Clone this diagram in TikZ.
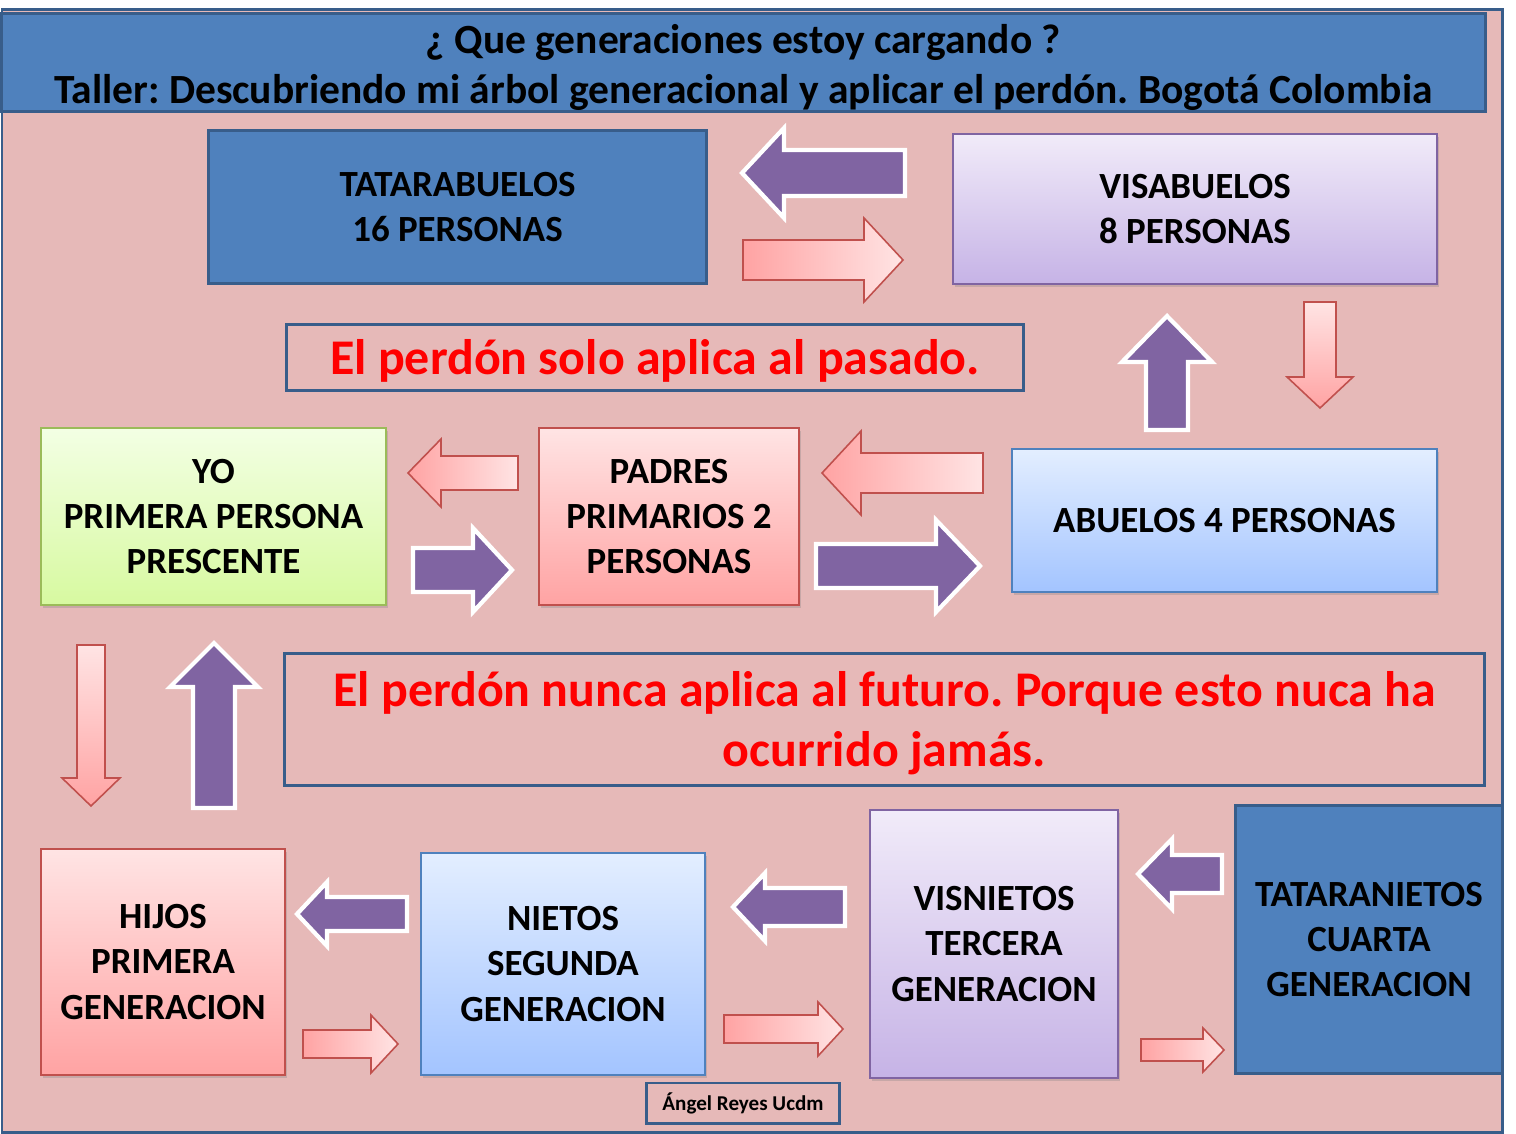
\documentclass[tikz,border=0pt]{standalone}
\usepackage{fontspec}
\setmainfont{Carlito}
\usetikzlibrary{positioning,shadows}

\definecolor{fondo}{HTML}{E6B9B8}
\definecolor{azulosc}{HTML}{385D8A}
\definecolor{azul}{HTML}{4F81BD}
\definecolor{morado}{HTML}{8064A2}
\definecolor{rojo}{HTML}{C0504D}
\definecolor{verde}{HTML}{9BBB59}
\definecolor{rojoclaro}{HTML}{FFE4E4}
\definecolor{rojomedio}{HTML}{FFA3A3}
\definecolor{azulclaro}{HTML}{E3EEFF}
\definecolor{azulmedio}{HTML}{A3C4FF}
\definecolor{moradoclaro}{HTML}{F1EBF9}
\definecolor{moradomedio}{HTML}{C6B3E6}
\definecolor{verdeclaro}{HTML}{F3FFE4}
\definecolor{verdemedio}{HTML}{D7F9A0}

\tikzset{
  caja/.style={draw, inner sep=0pt, align=center, font=\bfseries\fontsize{10.5}{12.8}\selectfont},
  sombra/.style={drop shadow={shadow xshift=0.5pt, shadow yshift=-0.8pt, opacity=0.3}},
  cajaazul/.style={caja, fill=azul, draw=azulosc, line width=0.85pt},
  cajaroja/.style={caja, sombra, draw=rojo, line width=0.6pt, top color=rojoclaro, bottom color=rojomedio},
  cajalila/.style={caja, sombra, draw=morado, line width=0.6pt, top color=moradoclaro, bottom color=moradomedio},
  cajaceleste/.style={caja, sombra, draw=azul, line width=0.6pt, top color=azulclaro, bottom color=azulmedio},
  cajaverde/.style={caja, sombra, draw=verde, line width=0.6pt, top color=verdeclaro, bottom color=verdemedio},
  marco/.style={draw=azulosc, line width=0.85pt, inner sep=0pt},
  titulotexto/.style={inner sep=0pt, align=center, font=\bfseries\fontsize{11.8}{14.2}\selectfont, yshift=-1.4pt},
  avisotexto/.style={inner sep=0pt, align=center, text=red, font=\bfseries\fontsize{14.2}{17}\selectfont, yshift=-1.1pt},
  flechamorada/.style={fill=morado, draw=white, line width=1.2pt, line join=miter},
  flecharojah/.style={draw=rojo, line width=0.45pt, left color=rojomedio, right color=rojoclaro},
  flecharojav/.style={draw=rojo, line width=0.45pt, top color=rojoclaro, bottom color=rojomedio},
}

% flecha de bloque: estilo, cola, base de la punta, punta, eje, medio cuerpo, media punta
\newcommand{\flechah}[7]{\draw[#1] (#2,#5-#6) -- (#3,#5-#6) -- (#3,#5-#7) -- (#4,#5) -- (#3,#5+#7) -- (#3,#5+#6) -- (#2,#5+#6) -- cycle;}
\newcommand{\flechav}[7]{\draw[#1] (#5-#6,#2) -- (#5-#6,#3) -- (#5-#7,#3) -- (#5,#4) -- (#5+#7,#3) -- (#5+#6,#3) -- (#5+#6,#2) -- cycle;}

\begin{document}
\frenchspacing
\begin{tikzpicture}[x=0.01cm, y=-0.01cm]
  \useasboundingbox[fill=white] (0,0) rectangle (1516,1134);
  \draw[fill=fondo, draw=azulosc, line width=0.85pt] (2,10) rectangle (1502,1132);

  % titulo
  \node[cajaazul, minimum width=14.83cm, minimum height=0.97cm,
    label={[titulotexto]center:¿ Que generaciones estoy cargando ?\\Taller: Descubriendo mi árbol generacional y aplicar el perdón. Bogotá Colombia}]
    (titulo) at (743.5,62.5) {};

  % generaciones pasadas
  \node[cajaazul, minimum width=4.97cm, minimum height=1.52cm] (tatarabuelos) at (457.5,207) {TATARABUELOS\\16 PERSONAS};
  \node[cajalila, minimum width=4.84cm, minimum height=1.50cm] (visabuelos) at (1195,209) {VISABUELOS\\8 PERSONAS};
  \node[marco, minimum width=7.36cm, minimum height=0.65cm,
    label={[avisotexto]center:El perdón solo aplica al pasado.}] (pasado) at (655,357.5) {};
  \node[cajaverde, minimum width=3.45cm, minimum height=1.77cm] (yo) at (213.5,516.5) {YO\\PRIMERA PERSONA\\PRESCENTE};
  \node[cajaroja, minimum width=2.60cm, minimum height=1.77cm] (padres) at (669,516.5) {PADRES\\PRIMARIOS 2\\PERSONAS};
  \node[cajaceleste, minimum width=4.25cm, minimum height=1.43cm] (abuelos) at (1224.5,520.5) {ABUELOS 4 PERSONAS};

  % generaciones futuras
  \node[marco, minimum width=11.99cm, minimum height=1.31cm,
    label={[avisotexto]center:El perdón nunca aplica al futuro. Porque esto nuca ha\\ocurrido jamás.}] (futuro) at (884.5,719.5) {};
  \node[cajaroja, minimum width=2.44cm, minimum height=2.26cm] (hijos) at (163,962) {HIJOS\\PRIMERA\\GENERACION};
  \node[cajaceleste, minimum width=2.84cm, minimum height=2.22cm] (nietos) at (563,964) {NIETOS\\SEGUNDA\\GENERACION};
  \node[cajalila, minimum width=2.48cm, minimum height=2.68cm] (visnietos) at (994,944) {VISNIETOS\\TERCERA\\GENERACION};
  \node[cajaazul, minimum width=2.66cm, minimum height=2.67cm] (tataranietos) at (1369,939.5) {TATARANIETOS\\CUARTA\\GENERACION};
  \node[marco, font=\bfseries\fontsize{6}{7}\selectfont, minimum width=1.92cm, minimum height=0.40cm] (autor) at (743,1103) {Ángel Reyes Ucdm};

  % flechas moradas
  \flechah{flechamorada}{905}{784}{742}{173}{23}{45}
  \flechah{flechamorada}{413}{473}{512}{570}{22}{42}
  \flechah{flechamorada}{816}{936}{980}{566}{22}{46}
  \flechah{flechamorada}{407}{327}{297}{914}{17}{32}
  \flechah{flechamorada}{845}{765}{733}{907}{19}{34}
  \flechah{flechamorada}{1222}{1172}{1138}{874}{19}{35}
  \flechav{flechamorada}{430}{362}{316}{1167}{21}{45}
  \flechav{flechamorada}{808}{687}{643}{214}{21}{44}

  % flechas rojas
  \flechah{flecharojah}{743}{864}{903}{260}{20}{42}
  \flechah{flecharojah}{518}{441}{408}{473}{17}{34}
  \flechah{flecharojah}{983}{861}{822}{473}{20}{42}
  \flechah{flecharojah}{303}{371}{398}{1044}{14}{29}
  \flechah{flecharojah}{724}{818}{843}{1029}{14}{27}
  \flechah{flecharojah}{1141}{1203}{1224}{1050}{11}{22}
  \flechav{flecharojav}{302}{377}{408}{1320}{16}{33}
  \flechav{flecharojav}{645}{778}{806}{91}{14}{29}
\end{tikzpicture}
\end{document}
